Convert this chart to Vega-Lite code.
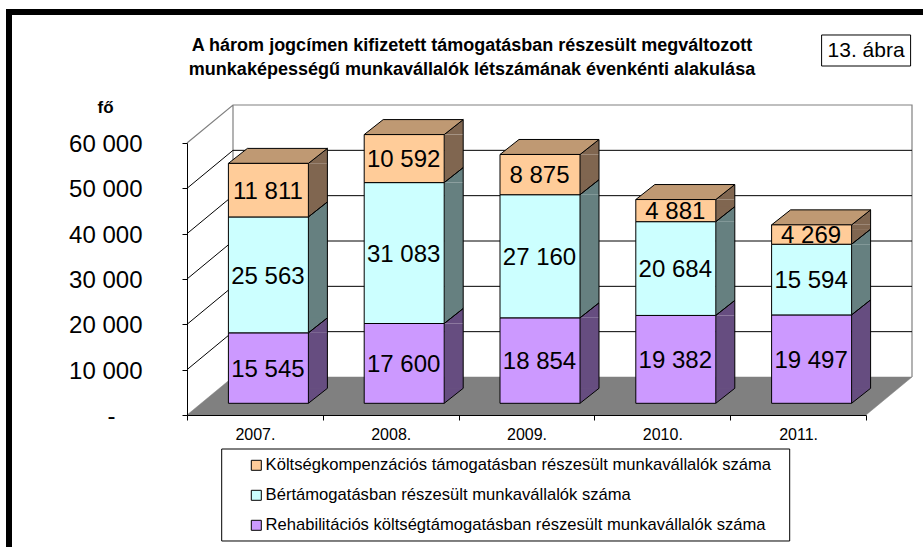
{
"$schema":"https://vega.github.io/schema/vega-lite/v6.json",
"width":920,"height":540,
"autosize":{"type":"none"},
"padding":{"left":9,"top":12,"right":0,"bottom":0},
"background":"#ffffff",
"view":{"stroke":"#000000","strokeWidth":6,"fill":"#ffffff"},
"title":{"text":["A három jogcímen kifizetett támogatásban részesült megváltozott","munkaképességű munkavállalók létszámának évenkénti alakulása"],"font":"Liberation Sans","fontSize":18,"fontWeight":"bold","color":"#000000","anchor":"middle","frame":"group","lineHeight":24,"dx":3,"dy":70.5,"baseline":"top"},
"data":{"values":[
{"year":"2007.","series":"Rehabilitációs költségtámogatásban részesült munkavállalók száma","value":15545},
{"year":"2007.","series":"Bértámogatásban részesült munkavállalók száma","value":25563},
{"year":"2007.","series":"Költségkompenzációs támogatásban részesült munkavállalók száma","value":11811},
{"year":"2008.","series":"Rehabilitációs költségtámogatásban részesült munkavállalók száma","value":17600},
{"year":"2008.","series":"Bértámogatásban részesült munkavállalók száma","value":31083},
{"year":"2008.","series":"Költségkompenzációs támogatásban részesült munkavállalók száma","value":10592},
{"year":"2009.","series":"Rehabilitációs költségtámogatásban részesült munkavállalók száma","value":18854},
{"year":"2009.","series":"Bértámogatásban részesült munkavállalók száma","value":27160},
{"year":"2009.","series":"Költségkompenzációs támogatásban részesült munkavállalók száma","value":8875},
{"year":"2010.","series":"Rehabilitációs költségtámogatásban részesült munkavállalók száma","value":19382},
{"year":"2010.","series":"Bértámogatásban részesült munkavállalók száma","value":20684},
{"year":"2010.","series":"Költségkompenzációs támogatásban részesült munkavállalók száma","value":4881},
{"year":"2011.","series":"Rehabilitációs költségtámogatásban részesült munkavállalók száma","value":19497},
{"year":"2011.","series":"Bértámogatásban részesült munkavállalók száma","value":15594},
{"year":"2011.","series":"Költségkompenzációs támogatásban részesült munkavállalók száma","value":4269}
]},
"transform":[{"stack":"value","groupby":["year"],"as":["y0","y1"]}],
"encoding":{
"x":{"field":"year","type":"nominal","title":null,"sort":null,
"scale":{"type":"band","domain":["2007.","2008.","2009.","2010.","2011."],"range":[178,857],"paddingInner":0,"paddingOuter":0},
"axis":{"orient":"bottom","offset":-137,"tickBand":"extent","grid":false,"labelAngle":0,"labelFont":"Liberation Sans","labelFontSize":16,"labelColor":"#000000","labelPadding":6,"tickColor":"#000000","tickSize":5,"domainColor":"#000000","zindex":1}},
"y":{"field":"y1","type":"quantitative","title":"fő","scale":{"domain":[0,60000],"range":[403,131],"nice":false,"zero":false},
 "axis":{"orient":"left","offset":-178,"values":[0,10000,20000,30000,40000,50000,60000],"grid":false,"labelExpr":"datum.value==0 ? '-' : replace(format(datum.value,','),',',' ')","labelFont":"Liberation Sans","labelFontSize":24,"labelColor":"#000000","labelOffset":1.5,"labelPadding":{"condition":{"test":"datum.value==0","value":67},"value":40},"tickSize":5,"tickColor":"#000000","domainColor":"#000000","titleFont":"Liberation Sans","titleFontSize":17,"titleFontWeight":"bold","titleColor":"#000000","titleAngle":0,"titleX":-82,"titleY":95,"titleAlign":"center","titleBaseline":"middle","zindex":1}}
},
"layer":[
{"data":{"values":[{"level":0}]},"mark":{"type":"point","shape":"M-67.9,0L611.1,0L657.1,-38L-21.9,-38Z","size":4,"filled":true,"fill":"#808080","stroke":"#808080","strokeWidth":0.5,"opacity":1},
 "encoding":{"x":{"datum":"2007."},"y":{"field":"level","type":"quantitative"}}},
{"data":{"values":[{"level":0}]},"mark":{"type":"point","shape":"M-67.9,-272L-21.9,-310L657.1,-310L657.1,-38M-21.9,-310L-21.9,-38","size":4,"filled":false,"stroke":"#808080","strokeWidth":1.2,"opacity":1},
 "encoding":{"x":{"datum":"2007."},"y":{"field":"level","type":"quantitative"}}},
{"data":{"values":[{"level":10000},{"level":20000},{"level":30000},{"level":40000},{"level":50000}]},
 "mark":{"type":"point","shape":"M-67.9,0L-21.9,-38L657.1,-38","size":4,"filled":false,"stroke":"#000000","strokeWidth":1,"opacity":1},
 "encoding":{"x":{"datum":"2007."},"y":{"field":"level","type":"quantitative"}}},
{"data":{"values":[{"note":"legend box","from":-7500,"to":-27794}]},"mark":{"type":"bar","width":568,"xOffset":-20.8,"fill":"#ffffff","stroke":"#000000","strokeWidth":1},
 "encoding":{"x":{"datum":"2009."},"y":{"field":"from","type":"quantitative"},"y2":{"field":"to"}}},
{"mark":{"type":"bar","width":19,"xOffset":63,"yOffset":-11.7,"y2Offset":-26.2,"strokeWidth":0},
 "encoding":{"y2":{"field":"y0"},"fill":{"condition":[{"test":"indexof(datum.series,'Költség')==0","value":"#806650"},{"test":"indexof(datum.series,'Bér')==0","value":"#668080"}],"value":"#664D80"}}},
{"mark":{"type":"point","shape":"M0,0L19,-15L19,0Z","size":4,"filled":true,"strokeWidth":0,"opacity":1,"xOffset":53.5,"yOffset":-11.7},
 "encoding":{"fill":{"condition":[{"test":"indexof(datum.series,'Költség')==0","value":"#806650"},{"test":"indexof(datum.series,'Bér')==0","value":"#668080"}],"value":"#664D80"}}},
{"mark":{"type":"point","shape":"M0,0L0,-15L19,-15Z","size":4,"filled":true,"strokeWidth":0,"opacity":1,"xOffset":53.5,"yOffset":-11.7},
 "encoding":{"y":{"field":"y0","type":"quantitative"},"fill":{"condition":[{"test":"indexof(datum.series,'Költség')==0","value":"#806650"},{"test":"indexof(datum.series,'Bér')==0","value":"#668080"}],"value":"#664D80"}}},
{"mark":{"type":"rule","color":"#000000","strokeWidth":1,"xOffset":72.5,"yOffset":-26.7,"y2Offset":-26.7},
 "encoding":{"y2":{"field":"y0"}}},
{"mark":{"type":"point","shape":"M0,0L19,-15","size":4,"filled":false,"stroke":"#000000","strokeWidth":1,"opacity":1,"xOffset":53.5,"yOffset":-11.7},
 "encoding":{"y":{"field":"y0","type":"quantitative"}}},
{"mark":{"type":"point","shape":"M0,0L19,-15","size":4,"filled":false,"stroke":"#000000","strokeWidth":1,"opacity":1,"xOffset":53.5,"yOffset":-11.7}},
{"transform":[{"filter":"indexof(datum.series,'Költség')==0"}],
 "mark":{"type":"point","shape":"M-40,0L40,0L59,-15L-21,-15Z","size":4,"filled":true,"fill":"#BF9973","stroke":"#000000","strokeWidth":1,"opacity":1,"xOffset":13.5,"yOffset":-11.7}},
{"mark":{"type":"bar","width":80,"xOffset":13.5,"yOffset":-11.7,"y2Offset":-11.7,"stroke":"#000000","strokeWidth":1},
 "encoding":{"y2":{"field":"y0"},"color":{"field":"series","type":"nominal",
  "scale":{"domain":["Költségkompenzációs támogatásban részesült munkavállalók száma","Bértámogatásban részesült munkavállalók száma","Rehabilitációs költségtámogatásban részesült munkavállalók száma"],"range":["#FFCC99","#CCFFFF","#CC99FF"]},
  "legend":{"orient":"none","legendX":239,"legendY":445,"title":null,"padding":0,"symbolType":"square","symbolSize":100,"symbolStrokeColor":"#000000","symbolStrokeWidth":1,"symbolOpacity":1,"labelFont":"Liberation Sans","labelFontSize":16.6,"labelColor":"#000000","labelLimit":600,"labelOffset":1,"rowPadding":13,"zindex":2}}}},
{"transform":[{"fold":["y0","y1"],"as":["bound","edge"]},{"aggregate":[{"op":"mean","field":"edge","as":"mid"}],"groupby":["year","series","value"]}],
 "mark":{"type":"text","font":"Liberation Sans","fontSize":24,"color":"#000000","align":"center","baseline":"middle","xOffset":13,"yOffset":-10,"text":{"expr":"replace(format(datum.value,','),',',' ')"}},
 "encoding":{"y":{"field":"mid","type":"quantitative"}}},
{"data":{"values":[{"note":"13. ábra","from":83824,"to":76985}]},"mark":{"type":"bar","width":89,"xOffset":68,"fill":"#ffffff","stroke":"#000000","strokeWidth":1},
 "encoding":{"x":{"datum":"2011."},"y":{"field":"from","type":"quantitative"},"y2":{"field":"to"}}},
{"data":{"values":[{"note":"13. ábra","at":80300}]},"mark":{"type":"text","font":"Liberation Sans","fontSize":21,"color":"#000000","align":"center","baseline":"middle","xOffset":68},
 "encoding":{"x":{"datum":"2011."},"y":{"field":"at","type":"quantitative"},"text":{"field":"note"}}}
]
}
